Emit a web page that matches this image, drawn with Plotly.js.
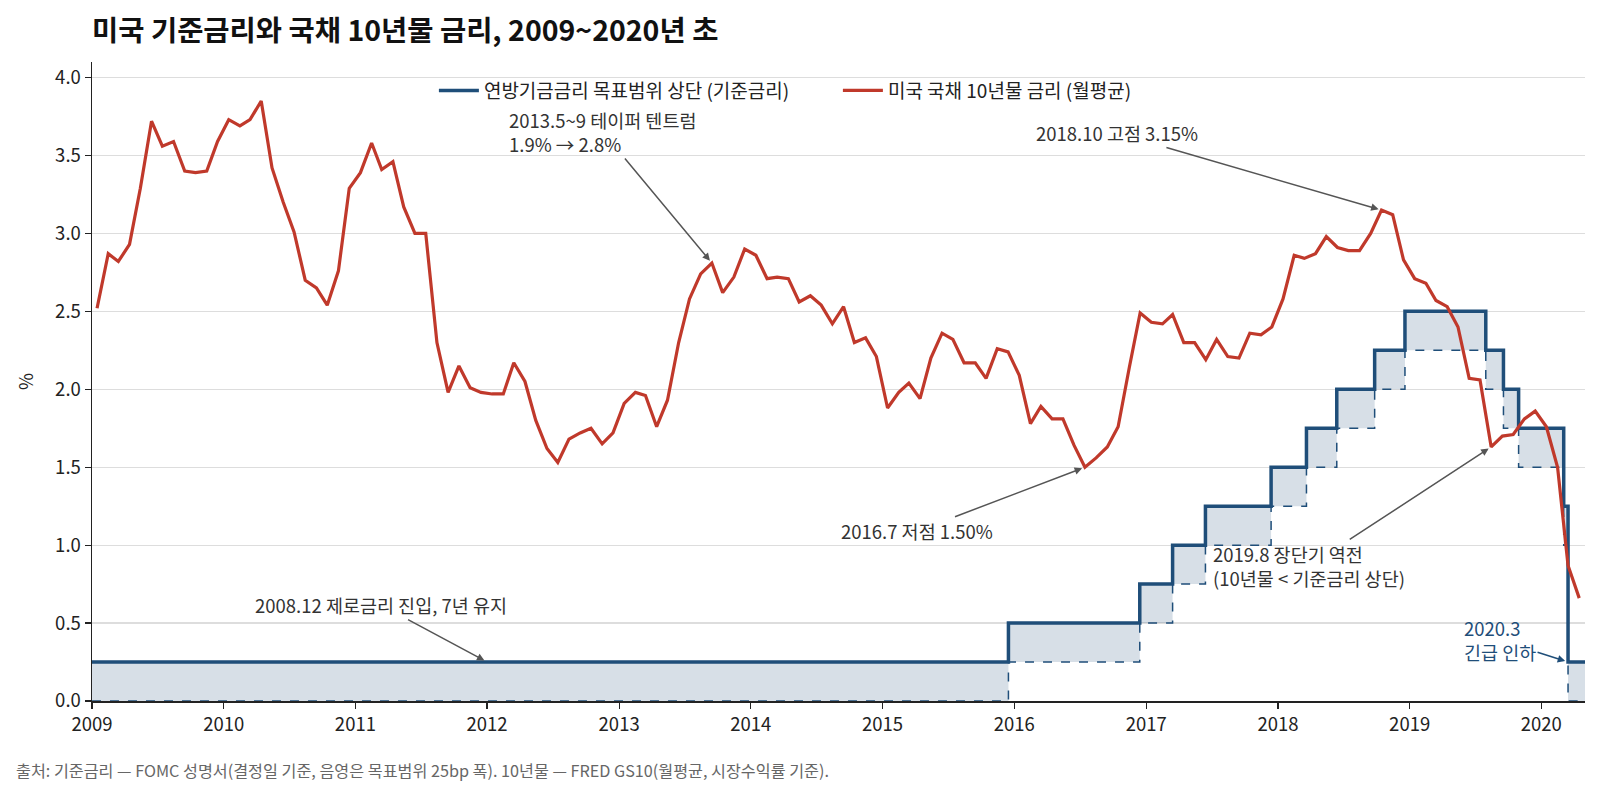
<!DOCTYPE html>
<html>
<head>
<meta charset="utf-8">
<script src="https://cdn.plot.ly/plotly-3.0.1.min.js"></script>
<style>
  html, body { margin: 0; padding: 0; background: #fff; }
  #chart { width: 1600px; height: 793px; }
</style>
</head>
<body>
<div id="chart"></div>
<script>
// 미국 국채 10년물 (FRED GS10, 월평균) 2009.01 ~ 2020.04
const gs10_months = [];
for (let y = 2009; y <= 2020; y++) {
    for (let m = 1; m <= 12; m++) {
        if (y === 2020 && m > 4) break;
        gs10_months.push(`${y}-${String(m).padStart(2, '0')}-15`);
    }
}
const gs10_values = [
    2.52, 2.87, 2.82, 2.93, 3.29, 3.72, 3.56, 3.59, 3.40, 3.39, 3.40, 3.59,
    3.73, 3.69, 3.73, 3.85, 3.42, 3.20, 3.01, 2.70, 2.65, 2.54, 2.76, 3.29,
    3.39, 3.58, 3.41, 3.46, 3.17, 3.00, 3.00, 2.30, 1.98, 2.15, 2.01, 1.98,
    1.97, 1.97, 2.17, 2.05, 1.80, 1.62, 1.53, 1.68, 1.72, 1.75, 1.65, 1.72,
    1.91, 1.98, 1.96, 1.76, 1.93, 2.30, 2.58, 2.74, 2.81, 2.62, 2.72, 2.90,
    2.86, 2.71, 2.72, 2.71, 2.56, 2.60, 2.54, 2.42, 2.53, 2.30, 2.33, 2.21,
    1.88, 1.98, 2.04, 1.94, 2.20, 2.36, 2.32, 2.17, 2.17, 2.07, 2.26, 2.24,
    2.09, 1.78, 1.89, 1.81, 1.81, 1.64, 1.50, 1.56, 1.63, 1.76, 2.14, 2.49,
    2.43, 2.42, 2.48, 2.30, 2.30, 2.19, 2.32, 2.21, 2.20, 2.36, 2.35, 2.40,
    2.58, 2.86, 2.84, 2.87, 2.98, 2.91, 2.89, 2.89, 3.00, 3.15, 3.12, 2.83,
    2.71, 2.68, 2.57, 2.53, 2.40, 2.07, 2.06, 1.63, 1.70, 1.71, 1.81, 1.86,
    1.76, 1.50, 0.87, 0.66
];

// FOMC 결정일 기준 목표범위
const fomc_dates = [
    '2009-01-01', '2015-12-16', '2016-12-14', '2017-03-15', '2017-06-14',
    '2017-12-13', '2018-03-21', '2018-06-13', '2018-09-26', '2018-12-19',
    '2019-07-31', '2019-09-18', '2019-10-30', '2020-03-03', '2020-03-15',
    '2020-05-01'
];
const fed_upper = [0.25, 0.50, 0.75, 1.00, 1.25, 1.50, 1.75, 2.00, 2.25, 2.50, 2.25, 2.00, 1.75, 1.25, 0.25, 0.25];
const fed_lower = [0.00, 0.25, 0.50, 0.75, 1.00, 1.25, 1.50, 1.75, 2.00, 2.25, 2.00, 1.75, 1.50, 1.00, 0.00, 0.00];

const year_ticks = ['2009', '2010', '2011', '2012', '2013', '2014', '2015', '2016', '2017', '2018', '2019', '2020'];

const BLUE = '#1f4e79';
const RED = '#c0392b';
const FONT = '"Noto Sans CJK KR", "Noto Sans", sans-serif';
const FS = 18.5;

const traces = [
    {
        x: fomc_dates, y: fed_lower, mode: 'lines',
        line: {color: BLUE, width: 1.5, dash: 'dash', shape: 'hv'},
        showlegend: false, hoverinfo: 'skip'
    },
    {
        x: fomc_dates, y: fed_upper, mode: 'lines',
        line: {color: BLUE, width: 3.5, shape: 'hv'},
        fill: 'tonexty', fillcolor: 'rgba(31,78,121,0.18)',
        showlegend: false, hoverinfo: 'skip'
    },
    {
        x: gs10_months, y: gs10_values, mode: 'lines',
        line: {color: RED, width: 3.2},
        name: '미국 국채 10년물 금리 (월평균)', hoverinfo: 'skip'
    },
    // 범례용 (선만 표시)
    {
        x: [null], y: [null], mode: 'lines',
        line: {color: BLUE, width: 3.5},
        name: '연방기금금리 목표범위 상단 (기준금리)', hoverinfo: 'skip',
        legendrank: 1
    }
];

const note = (x, y, text, ax, ay, extra) => Object.assign({
    x: x, y: y, xref: 'x', yref: 'y', text: text,
    showarrow: true, ax: ax, ay: ay,
    arrowhead: 2, arrowsize: 1, arrowwidth: 1.5, arrowcolor: '#555555',
    standoff: 3, align: 'left',
    font: {family: FONT, size: FS, color: '#333333'}
}, extra || {});

const layout = {
    width: 1600, height: 793,
    margin: {l: 92, r: 15, t: 62, b: 92},
    paper_bgcolor: '#ffffff', plot_bgcolor: '#ffffff',
    font: {family: FONT, size: FS, color: '#222222'},
    title: {
        text: '<b>미국 기준금리와 국채 10년물 금리, 2009~2020년 초</b>',
        x: 0, xref: 'paper', xanchor: 'left',
        y: 28, yref: 'container', yanchor: 'middle',
        font: {family: FONT, size: 28.5, color: '#111111'}
    },
    showlegend: true,
    legend: {
        orientation: 'h', x: 0.229, xanchor: 'left', y: 0.985, yanchor: 'top',
        font: {family: FONT, size: 19, color: '#222222'},
        bgcolor: 'rgba(255,255,255,0)', entrywidth: 349, itemwidth: 40,
        traceorder: 'normal'
    },
    xaxis: {
        type: 'date', range: ['2009-01-01', '2020-05-01'],
        tickvals: year_ticks.map(t => t + '-01-01'), ticktext: year_ticks,
        ticks: 'outside', ticklen: 6, tickcolor: '#222', tickwidth: 1.2,
        showline: true, linecolor: '#222', linewidth: 1.5,
        showgrid: false, zeroline: false,
        tickfont: {family: FONT, size: FS, color: '#222'}
    },
    yaxis: {
        range: [0, 4.1], dtick: 0.5, tick0: 0, tickformat: '.1f',
        ticks: 'outside', ticklen: 6, tickcolor: '#222', tickwidth: 1.2,
        showline: true, linecolor: '#222', linewidth: 1.5,
        showgrid: true, gridcolor: '#dddddd', gridwidth: 1.2, zeroline: false,
        tickfont: {family: FONT, size: FS, color: '#222'},
        title: {text: '%', standoff: 16, font: {family: FONT, size: FS, color: '#222'}}
    },
    annotations: [
        note('2012-01-01', 0.25, '2008.12 제로금리 진입, 7년 유지', -106, -57),
        note('2013-09-15', 2.81, '2013.5~9 테이퍼 텐트럼<br>1.9% → 2.8%', -109, -131),
        note('2016-07-15', 1.50, '2016.7 저점 1.50%', -168, 64),
        note('2018-10-15', 3.15, '2018.10 고점 3.15%', -265, -77),
        note('2019-08-15', 1.63, '2019.8 장단기 역전<br>(10년물 < 기준금리 상단)', -182, 119),
        note('2020-03-15', 0.25, '2020.3<br>긴급 인하', -68, -22,
            {arrowcolor: BLUE, font: {family: FONT, size: FS, color: BLUE}}),
        {
            xref: 'paper', yref: 'paper', x: -0.0525, y: -0.108,
            xanchor: 'left', yanchor: 'middle', showarrow: false,
            text: '출처: 기준금리 — FOMC 성명서(결정일 기준, 음영은 목표범위 25bp 폭). 10년물 — FRED GS10(월평균, 시장수익률 기준).',
            font: {family: FONT, size: 16.2, color: '#666666'}
        }
    ]
};

Plotly.newPlot('chart', traces, layout, {displayModeBar: false, staticPlot: true});
</script>
</body>
</html>
